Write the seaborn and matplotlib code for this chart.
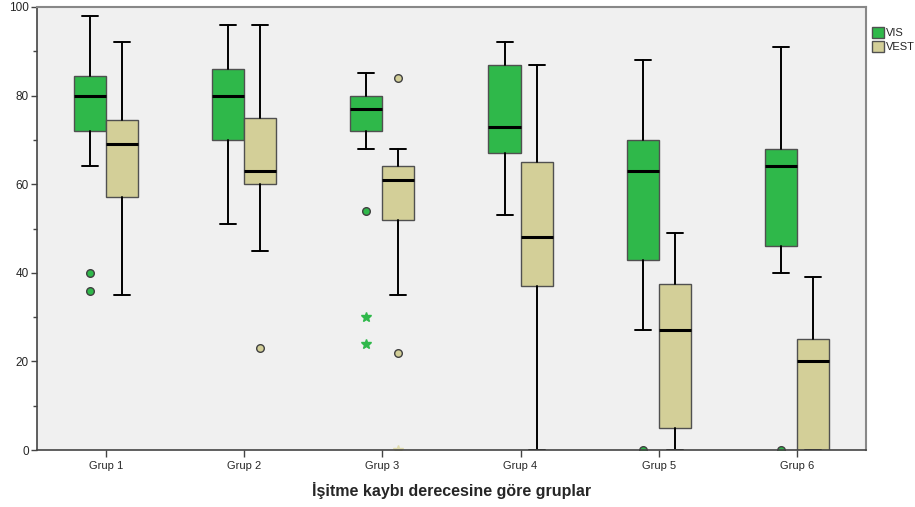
import matplotlib
matplotlib.use("Agg")
import matplotlib.pyplot as plt
import matplotlib.patches as mpatches
import seaborn as sns

# Groups and box statistics (SPSS-style boxplot)
groups = ["Grup 1", "Grup 2", "Grup 3", "Grup 4", "Grup 5", "Grup 6"]

vis_low = [64, 51, 68, 53, 27, 40]
vis_q1 = [72, 70, 72, 67, 43, 46]
vis_med = [80, 80, 77, 73, 63, 64]
vis_q3 = [84.5, 86, 80, 87, 70, 68]
vis_high = [98, 96, 85, 92, 88, 91]
vis_out = [[40, 36], [], [54], [], [0], [0]]
vis_extreme = [[], [], [30, 24], [], [], []]

vest_low = [35, 45, 35, 0, 0, 0]
vest_q1 = [57, 60, 52, 37, 5, 0]
vest_med = [69, 63, 61, 48, 27, 20]
vest_q3 = [74.5, 75, 64, 65, 37.5, 25]
vest_high = [92, 96, 68, 87, 49, 39]
vest_out = [[], [23], [84, 22], [], [], []]
vest_extreme = [[], [], [0], [], [], []]

series = ["VIS", "VEST"]
colors = ["#2fb84a", "#d3cf98"]

sns.set_theme(style="ticks")
plt.rcParams['font.family'] = ['Liberation Sans', 'DejaVu Sans']

fig = plt.figure(figsize=(9.15, 5.07), dpi=100)
ax = fig.add_axes([0.0404, 0.1124, 0.9060, 0.8738])
ax.set_facecolor("#f0f0f0")


def make_stats(low, q1, med, q3, high, out):
    return [dict(whislo=a, q1=b, med=c, q3=d, whishi=e, fliers=f)
            for a, b, c, d, e, f in zip(low, q1, med, q3, high, out)]


stats = [
    make_stats(vis_low, vis_q1, vis_med, vis_q3, vis_high, vis_out),
    make_stats(vest_low, vest_q1, vest_med, vest_q3, vest_high, vest_out),
]
extremes = [vis_extreme, vest_extreme]

width = 0.232
for k, (st, col, ext) in enumerate(zip(stats, colors, extremes)):
    offset = (k - 0.5) * width
    pos = [i + offset for i in range(len(groups))]
    ax.bxp(st, positions=pos, widths=width, capwidths=width / 2,
           patch_artist=True, manage_ticks=False,
           boxprops=dict(facecolor=col, edgecolor="#505050", linewidth=1),
           medianprops=dict(color="black", linewidth=2.2),
           whiskerprops=dict(color="black", linewidth=1.4),
           capprops=dict(color="black", linewidth=1.4),
           flierprops=dict(marker="o", markerfacecolor=col, markeredgecolor="#404040",
                           markersize=5.5, markeredgewidth=1))
    for i, vals in enumerate(ext):
        if vals:
            ax.plot([pos[i]] * len(vals), vals, linestyle="none", marker="*",
                    color=col if k == 0 else "#e0dcae", markersize=7)

ax.set_xlim(-0.5, 5.5)
ax.set_ylim(0, 100)
ax.set_xticks(range(len(groups)))
ax.set_xticklabels(groups, fontsize=8)
ax.set_yticks([0, 20, 40, 60, 80, 100])
ax.set_yticks([10, 30, 50, 70, 90], minor=True)
ax.tick_params(axis="y", which="major", labelsize=8.5, length=4, width=1, color="#444444", pad=2)
ax.tick_params(axis="y", which="minor", length=3, width=1, color="#444444")
ax.tick_params(axis="x", length=5, width=1, color="#444444", pad=3)

for side in ["left", "bottom"]:
    ax.spines[side].set_color("#444444")
    ax.spines[side].set_linewidth(1.2)
for side in ["top", "right"]:
    ax.spines[side].set_color("#888888")
    ax.spines[side].set_linewidth(1.5)

ax.set_xlabel("İşitme kaybı derecesine göre gruplar", fontsize=11.5, fontweight="bold", labelpad=8)

handles = [mpatches.Patch(facecolor=c, edgecolor="#505050", label=s) for s, c in zip(series, colors)]
ax.legend(handles=handles, loc="upper left", bbox_to_anchor=(1.007, 0.955), frameon=False,
          fontsize=8, handlelength=1.1, handleheight=1.1, handletextpad=0.2,
          labelspacing=0.3, borderpad=0, borderaxespad=0)

fig.savefig("out.png", dpi=100)
